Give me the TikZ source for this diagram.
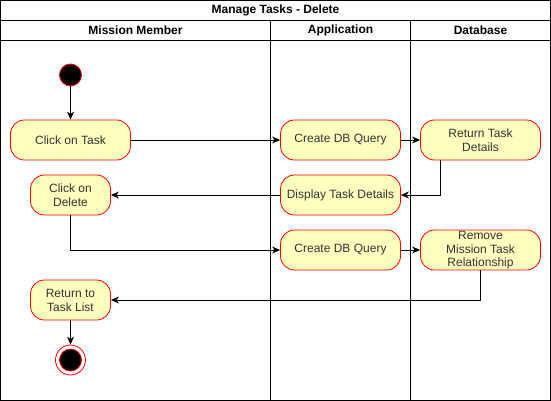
\documentclass[tikz,border=0pt]{standalone}
\usepackage{fontspec}
\setmainfont{Liberation Sans}
\usetikzlibrary{arrows.meta}
\definecolor{actfill}{HTML}{FFFFC0}
\definecolor{acttxt}{HTML}{333333}
\begin{document}
\begin{tikzpicture}[x=1pt,y=-1pt,
  act/.style={draw=red, fill=actfill, rounded corners=14pt, minimum height=40pt,
    text=acttxt, font=\fontsize{12}{14}\selectfont, align=center, inner sep=2pt, line width=0.8pt},
  acttext/.style={text=acttxt, font=\fontsize{12}{13.5}\selectfont, align=center, inner sep=0pt},
  flow/.style={draw, line width=0.8pt, -{Stealth[length=8pt,width=7pt,inset=2.5pt]}},
  lane/.style={line width=0.8pt},
  hdr/.style={font=\bfseries\fontsize{12}{14}\selectfont, inner sep=0pt}]
\useasboundingbox (0,0) rectangle (551,401);
% frame
\draw[lane] (0.5,0.5) rectangle (550.5,400.5);
\draw[lane] (0.5,20.5) -- (550.5,20.5);
\draw[lane] (0.5,40.5) -- (550.5,40.5);
\draw[lane] (270.5,20.5) -- (270.5,400.5);
\draw[lane] (410.5,20.5) -- (410.5,400.5);
\node[hdr] (title) at (275.5,10.5) {Manage Tasks - Delete};
\node[hdr] (h1) at (135.5,30.5) {Mission Member};
\node[hdr] (h2) at (340.5,30.5) {Application};
\node[hdr] (h3) at (480.5,30.5) {Database};
% nodes
\node[circle, fill=black, draw=red, line width=0.8pt, minimum size=22pt, inner sep=0pt] (start) at (70.5,75) {};
\node[act, minimum width=120pt] (click) at (70.5,140) {Click on Task};
\node[act, minimum width=120pt] (q1) at (340.5,140) {Create DB Query};
\node[act, minimum width=120pt] (ret) at (480.5,140) {Return Task\\Details};
\node[act, minimum width=120pt] (disp) at (340.5,195) {Display Task Details};
\node[act, minimum width=80pt] (del) at (70.5,195) {Click on\\Delete};
\node[act, minimum width=120pt] (q2) at (340.5,250) {Create DB Query};
\node[act, minimum width=120pt] (rem) at (480.5,250) {};
\node[acttext] (remtxt) at (480.5,250.5) {Remove\\Mission Task\\Relationship};
\node[act, minimum width=80pt] (back) at (70.5,300) {Return to\\Task List};
\node[circle, fill=white, draw=red, line width=0.8pt, minimum size=30pt, inner sep=0pt] (end) at (70.5,360) {};
\node[circle, fill=black, draw=red, line width=0.8pt, minimum size=22pt, inner sep=0pt] (endin) at (end) {};
% connectors
\draw[flow] (start) -- (click);
\draw[flow] (click) -- (q1);
\draw[flow] (q1) -- (ret);
\draw[flow] ([xshift=-40pt]ret.south) |- (disp.east);
\draw[flow] (disp) -- (del);
\draw[flow] (del.south) |- (q2.west);
\draw[flow] (q2) -- (rem);
\draw[flow] (rem.south) |- (back.east);
\draw[flow] (back) -- (end);
\end{tikzpicture}
\end{document}
